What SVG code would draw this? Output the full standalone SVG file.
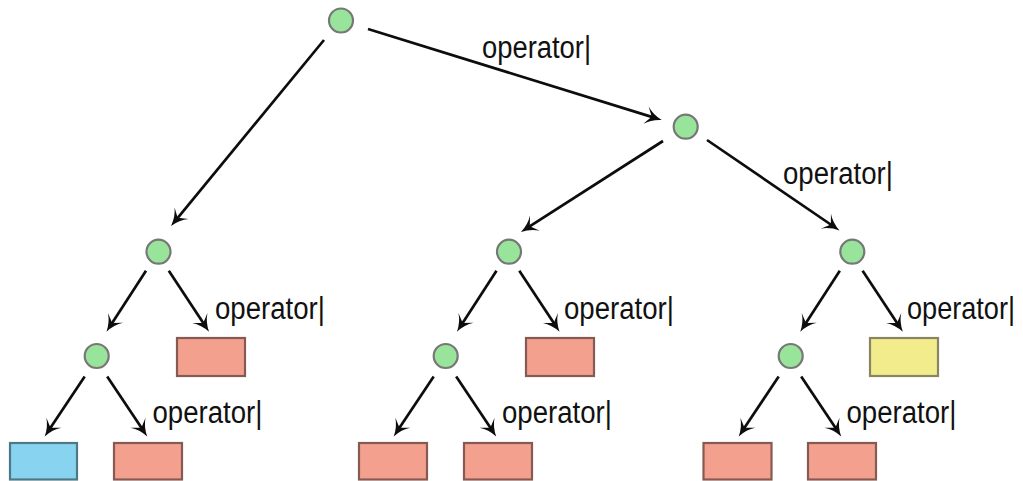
<svg xmlns="http://www.w3.org/2000/svg" width="1023" height="481" viewBox="0 0 1023 481">
  <defs>
    <marker id="head" markerUnits="userSpaceOnUse" viewBox="-11 -11 22 22" refX="0" refY="0" markerWidth="22" markerHeight="22" orient="auto">
      <path d="M8,0 Q-2,-2.5 -8.5,-9 L-2.5,0 L-8.5,9 Q-2,2.5 8,0 Z" fill="#0d0d0d"/>
    </marker>
  </defs>
  <style>
    .edge { stroke: #0d0d0d; stroke-width: 2.7; fill: none; marker-end: url(#head); }
    .op { fill: #98e49a; stroke: #777; stroke-width: 2.2; }
    .red { fill: #f4a08f; stroke: #855a52; stroke-width: 2.2; }
    .blue { fill: #88d4f0; stroke: #4f7886; stroke-width: 2.2; }
    .yellow { fill: #f2ec8c; stroke: #888563; stroke-width: 2.2; }
    .lbl { font-family: "Liberation Sans", Arial, sans-serif; font-size: 31px; fill: #111; }
  </style>
  <rect width="1023" height="481" fill="#ffffff"/>

  <!-- connectors -->
  <g id="edges">
    <line class="edge" x1="324" y1="40" x2="176.1" y2="219.8"/>
    <line class="edge" x1="368" y1="29" x2="654.1" y2="117.6"/>
    <line class="edge" x1="663" y1="141" x2="527.7" y2="227.7"/>
    <line class="edge" x1="707" y1="140" x2="832.9" y2="226"/>

    <line class="edge" x1="146" y1="270.7" x2="110.85" y2="324.98"/>
    <line class="edge" x1="168.8" y1="270.7" x2="204.6" y2="325.02"/>
    <line class="edge" x1="496.5" y1="270.7" x2="461.35" y2="324.98"/>
    <line class="edge" x1="519.3" y1="270.7" x2="555.1" y2="325.02"/>
    <line class="edge" x1="839.8" y1="270.7" x2="804.65" y2="324.98"/>
    <line class="edge" x1="862.6" y1="270.7" x2="898.4" y2="325.02"/>

    <line class="edge" x1="84.7" y1="376.5" x2="49.14" y2="429.84"/>
    <line class="edge" x1="107.2" y1="376.5" x2="142.76" y2="429.84"/>
    <line class="edge" x1="433.7" y1="376.5" x2="398.14" y2="429.84"/>
    <line class="edge" x1="456.2" y1="376.5" x2="491.76" y2="429.84"/>
    <line class="edge" x1="778.7" y1="376.5" x2="743.14" y2="429.84"/>
    <line class="edge" x1="801.2" y1="376.5" x2="836.76" y2="429.84"/>
  </g>

  <!-- edge labels (horizontally condensed face) -->
  <g id="labels">
    <text class="lbl" transform="translate(482,58) scale(0.883,1)">operator|</text>
    <text class="lbl" transform="translate(783,183.5) scale(0.89,1)">operator|</text>
    <text class="lbl" transform="translate(215,319) scale(0.89,1)">operator|</text>
    <text class="lbl" transform="translate(564,319) scale(0.89,1)">operator|</text>
    <text class="lbl" transform="translate(907,319) scale(0.875,1)">operator|</text>
    <text class="lbl" transform="translate(152.5,423) scale(0.89,1)">operator|</text>
    <text class="lbl" transform="translate(502,423) scale(0.89,1)">operator|</text>
    <text class="lbl" transform="translate(846.5,423) scale(0.89,1)">operator|</text>
  </g>

  <!-- operator nodes -->
  <g id="n-root"><circle class="op" cx="341" cy="20.5" r="12"/></g>
  <g id="n-r"><circle class="op" cx="685.7" cy="126.7" r="12"/></g>
  <g id="n-a"><circle class="op" cx="158.5" cy="251.7" r="12"/></g>
  <g id="n-b"><circle class="op" cx="509" cy="251.7" r="12"/></g>
  <g id="n-c"><circle class="op" cx="852.3" cy="251.7" r="12"/></g>
  <g id="n-d"><circle class="op" cx="96.7" cy="356" r="12"/></g>
  <g id="n-e"><circle class="op" cx="445.7" cy="356" r="12"/></g>
  <g id="n-f"><circle class="op" cx="790.7" cy="356" r="12"/></g>

  <!-- leaf nodes -->
  <g id="leaf-a"><rect class="red" x="177" y="338" width="68" height="38"/></g>
  <g id="leaf-b"><rect class="red" x="526" y="338" width="68" height="38"/></g>
  <g id="leaf-c"><rect class="yellow" x="870" y="338" width="68" height="38"/></g>
  <g id="leaf-d1"><rect class="blue" x="10" y="443" width="67" height="36.5"/></g>
  <g id="leaf-d2"><rect class="red" x="114" y="443" width="68" height="36.5"/></g>
  <g id="leaf-e1"><rect class="red" x="359" y="443" width="68" height="36.5"/></g>
  <g id="leaf-e2"><rect class="red" x="464" y="443" width="68" height="36.5"/></g>
  <g id="leaf-f1"><rect class="red" x="703.5" y="443" width="68" height="36.5"/></g>
  <g id="leaf-f2"><rect class="red" x="808" y="443" width="68" height="36.5"/></g>
</svg>
